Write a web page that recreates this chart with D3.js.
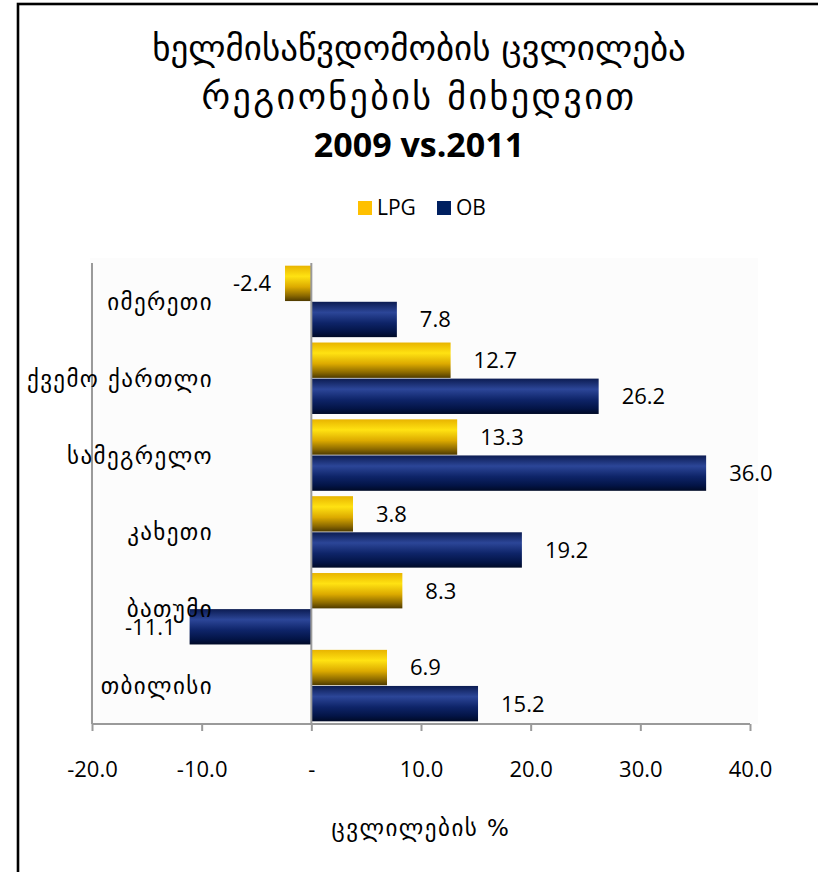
<!DOCTYPE html>
<html>
<head>
<meta charset="utf-8">
<script src="https://cdn.jsdelivr.net/npm/d3@7/dist/d3.min.js"></script>
<style>
  html, body { margin: 0; padding: 0; background: #fff; }
  svg { display: block; }
</style>
</head>
<body>
<div id="chart"></div>
<script>
// Regions, top to bottom as listed on the chart
const regions = ["იმერეთი", "ქვემო ქართლი", "სამეგრელო", "კახეთი", "ბათუმი", "თბილისი"];
// Percent change per region, 2009 vs 2011
const lpgValues = [-2.4, 12.7, 13.3, 3.8, 8.3, 6.9];
const obValues = [7.8, 26.2, 36.0, 19.2, -11.1, 15.2];
const seriesNames = ["LPG", "OB"];
const xTicks = [-20, -10, 0, 10, 20, 30, 40];
const titleLines = ["ხელმისაწვდომობის ცვლილება", "რეგიონების მიხედვით", "2009 vs.2011"];
const xAxisTitle = "ცვლილების %";

const W = 818, H = 872;
const geoFont = "'DejaVu Sans', sans-serif";
const numFont = "'Open Sans', 'Liberation Sans', sans-serif";
const fmt = v => d3.format(".1f")(v).replace("−", "-");

const svg = d3.select("#chart").append("svg")
  .attr("width", W).attr("height", H);

// Outer frame
svg.append("rect")
  .attr("x", 18).attr("y", 4)
  .attr("width", W + 20).attr("height", H + 20)
  .attr("fill", "#fff").attr("stroke", "#000").attr("stroke-width", 2.6);

// Gradients for the bars
const defs = svg.append("defs");
function barGradient(id, stops) {
  const g = defs.append("linearGradient").attr("id", id)
    .attr("x1", 0).attr("y1", 0).attr("x2", 0).attr("y2", 1);
  stops.forEach(([o, c]) => g.append("stop").attr("offset", o).attr("stop-color", c));
}
barGradient("gLPG", [[0, "#e8b400"], [0.3, "#ffe212"], [0.6, "#dcaa00"], [0.85, "#8a6800"], [1, "#4e3a00"]]);
barGradient("gOB", [[0, "#0c1c52"], [0.3, "#2c4698"], [0.6, "#0e2468"], [0.85, "#031446"], [1, "#000a26"]]);

// Scales
const x = d3.scaleLinear().domain([-20, 40]).range([92, 750]);
const y = d3.scaleBand().domain(regions).range([263, 724]).paddingInner(0.07).paddingOuter(0.035);
const ys = d3.scaleBand().domain(seriesNames).range([0, y.bandwidth()]).paddingInner(0.02);

// Plot area backdrop
svg.append("rect")
  .attr("x", 90).attr("y", 258).attr("width", 668).attr("height", 466)
  .attr("fill", "#fcfcfc");

// Title
const titleY = [50, 99, 148];
const titleSize = [35, 36, 34];
const titleSpacing = [0, 2.4, 0];
titleLines.forEach((t, i) => {
  svg.append("text")
    .attr("x", 419).attr("y", titleY[i])
    .attr("text-anchor", "middle").attr("dominant-baseline", "middle")
    .attr("font-family", i === 2 ? numFont : geoFont)
    .attr("font-weight", i === 2 ? "bold" : "normal")
    .attr("font-size", titleSize[i])
    .attr("letter-spacing", titleSpacing[i])
    .attr("fill", "#000")
    .text(t);
});

// Legend
const legendColors = { LPG: "#ffc000", OB: "#002060" };
const legend = svg.append("g").attr("font-family", numFont).attr("font-size", 21);
const legendX = { LPG: 358, OB: 437 };
seriesNames.forEach(s => {
  legend.append("rect").attr("x", legendX[s]).attr("y", 201).attr("width", 14).attr("height", 14)
    .attr("fill", legendColors[s]);
  legend.append("text").attr("x", legendX[s] + 19).attr("y", 209)
    .attr("dominant-baseline", "middle").text(s);
});

// Left plot edge
svg.append("line")
  .attr("x1", x(-20)).attr("x2", x(-20)).attr("y1", 263).attr("y2", 724)
  .attr("stroke", "#9a9a9a").attr("stroke-width", 2);

// Bars
const rows = regions.map((r, i) => ({ region: r, LPG: lpgValues[i], OB: obValues[i] }));
const barG = svg.append("g");
rows.forEach(row => {
  seriesNames.forEach(s => {
    const v = row[s];
    const by = y(row.region) + ys(s);
    const bh = ys.bandwidth();
    barG.append("rect")
      .attr("x", x(Math.min(0, v)))
      .attr("y", by)
      .attr("width", Math.abs(x(v) - x(0)))
      .attr("height", bh)
      .attr("fill", `url(#g${s})`);
    barG.append("text")
      .attr("x", v >= 0 ? x(v) + 23 : x(v) - 14)
      .attr("y", by + bh / 2 + 2)
      .attr("text-anchor", v >= 0 ? "start" : "end")
      .attr("dominant-baseline", "middle")
      .attr("font-family", numFont).attr("font-size", 22)
      .attr("fill", "#000")
      .text(fmt(v));
  });
});

// Zero line
svg.append("line")
  .attr("x1", x(0)).attr("x2", x(0)).attr("y1", 263).attr("y2", 724)
  .attr("stroke", "#9a9a9a").attr("stroke-width", 2);

// Category labels
rows.forEach(row => {
  svg.append("text")
    .attr("x", 213).attr("y", y(row.region) + y.bandwidth() / 2 + 2)
    .attr("text-anchor", "end").attr("dominant-baseline", "middle")
    .attr("font-family", geoFont).attr("font-size", 23)
    .attr("letter-spacing", 1.4)
    .text(row.region);
});

// X axis
const xAxis = d3.axisBottom(x)
  .tickValues(xTicks)
  .tickSize(7)
  .tickPadding(30)
  .tickFormat(d => d === 0 ? "-" : fmt(d));
const axG = svg.append("g").attr("transform", "translate(0,724)").call(xAxis);
axG.select(".domain").attr("stroke", "#9a9a9a").attr("stroke-width", 2)
  .attr("d", `M${x(-20)},0H${x(40)}`);
axG.selectAll(".tick line").attr("stroke", "#9a9a9a").attr("stroke-width", 2);
axG.selectAll(".tick text")
  .attr("font-family", numFont).attr("font-size", 22).attr("fill", "#000");

// Axis title
svg.append("text")
  .attr("x", 421).attr("y", 829)
  .attr("text-anchor", "middle").attr("dominant-baseline", "middle")
  .attr("font-family", geoFont).attr("font-size", 23)
  .attr("letter-spacing", 1.5)
  .text(xAxisTitle);
</script>
</body>
</html>
